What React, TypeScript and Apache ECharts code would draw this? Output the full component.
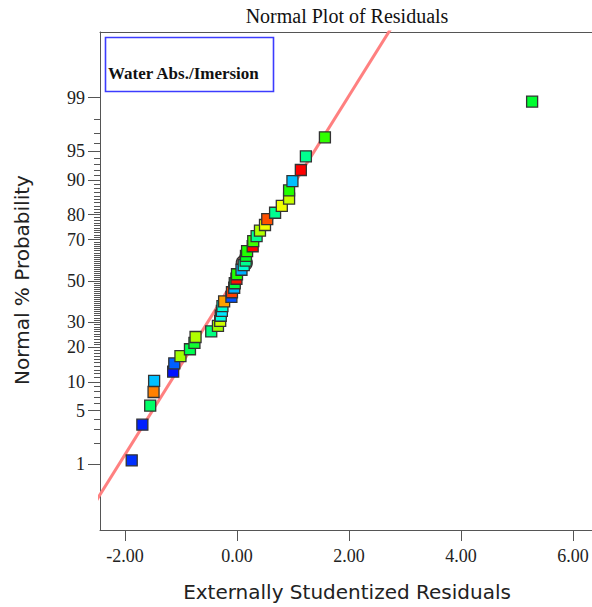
import React, { useEffect, useRef } from "react";
import * as echarts from "echarts";

// ---- data ----
const residuals = [
  -1.88, -1.69, -1.55, -1.49, -1.48, -1.14, -1.12, -1.01, -0.84, -0.76, -0.74,
  -0.46, -0.34, -0.3, -0.29, -0.27, -0.26, -0.23, -0.1, -0.09, -0.05, -0.04,
  -0.01, 0.0, 0.08, 0.12, 0.155, 0.16, 0.18, 0.28, 0.29, 0.35, 0.41, 0.5, 0.54,
  0.68, 0.8, 0.93, 0.93, 0.99, 1.14, 1.23, 1.57, 5.27,
];
const probabilities = [
  1.14, 3.41, 5.68, 7.95, 10.23, 12.5, 14.77, 17.05, 19.32, 21.59, 23.86,
  26.14, 28.41, 30.68, 32.95, 35.23, 37.5, 39.77, 42.05, 44.32, 46.59, 48.86,
  51.14, 53.41, 55.68, 57.95, 60.23, 62.5, 64.77, 67.05, 69.32, 71.59, 73.86,
  76.14, 78.41, 80.68, 82.95, 85.23, 87.5, 89.77, 92.05, 94.32, 96.59, 98.86,
];
const pointColors = [
  "#0030ff", "#0020ff", "#00ff66", "#ff8000", "#00c0ff", "#0010ff", "#0060ff",
  "#a0ff00", "#00ff50", "#10ff30", "#b0ff00", "#00ff80", "#a0ff00", "#d0ff00",
  "#00ffe0", "#00e8ff", "#00ffd0", "#ffa000", "#0050ff", "#ff4000", "#00b0ff",
  "#00ff40", "#ff1000", "#20ff00", "#00b0ff", "#00ffd0", "#00ff90", "#00ff20",
  "#20ff00", "#ff0000", "#40ff00", "#00ff90", "#b0ff00", "#f0ff00", "#ff5000",
  "#00ff90", "#f0ff00", "#c8ff00", "#20ff00", "#00c0ff", "#ff0000", "#00ff90",
  "#30ff00", "#00ff30",
];
const markedResidual = [0.13];
const markedProbability = [59.0];

const fitLineX = [-2.6, 2.9];
const fitLineZ = [-2.886, 3.376];

const xTicks = [-2, 0, 2, 4, 6];
const yMajorTicks = [1, 5, 10, 20, 30, 50, 70, 80, 90, 95, 99];

const TITLE = "Normal Plot of Residuals";
const LEGEND_TEXT = "Water Abs./Imersion";
const X_NAME = "Externally Studentized Residuals";
const Y_NAME = "Normal % Probability";

// inverse normal CDF (probability scale transform)
function probit(p: number): number {
  const a = [-3.969683028665376e1, 2.209460984245205e2, -2.759285104469687e2, 1.38357751867269e2, -3.066479806614716e1, 2.506628277459239];
  const b = [-5.447609879822406e1, 1.615858368580409e2, -1.556989798598866e2, 6.680131188771972e1, -1.328068155288572e1];
  const c = [-7.784894002430293e-3, -3.223964580411365e-1, -2.400758277161838, -2.549732539343734, 4.374664141464968, 2.938163982698783];
  const d = [7.784695709041462e-3, 3.224671290700398e-1, 2.445134137142996, 3.754408661907416];
  const plow = 0.02425;
  const phigh = 1 - plow;
  if (p < plow) {
    const q = Math.sqrt(-2 * Math.log(p));
    return (((((c[0] * q + c[1]) * q + c[2]) * q + c[3]) * q + c[4]) * q + c[5]) / ((((d[0] * q + d[1]) * q + d[2]) * q + d[3]) * q + 1);
  }
  if (p <= phigh) {
    const q = p - 0.5;
    const r = q * q;
    return ((((((a[0] * r + a[1]) * r + a[2]) * r + a[3]) * r + a[4]) * r + a[5]) * q) / (((((b[0] * r + b[1]) * r + b[2]) * r + b[3]) * r + b[4]) * r + 1);
  }
  const q = Math.sqrt(-2 * Math.log(1 - p));
  return -(((((c[0] * q + c[1]) * q + c[2]) * q + c[3]) * q + c[4]) * q + c[5]) / ((((d[0] * q + d[1]) * q + d[2]) * q + d[3]) * q + 1);
}

export default function App() {
  const ref = useRef<HTMLDivElement>(null);

  useEffect(() => {
    if (!ref.current) return;
    const chart = echarts.init(ref.current, undefined, { renderer: "svg" });

    const gridLeft = 100;
    const gridTop = 32;
    const gridBottom = 77;
    const pxPerUnit = 56;
    const zeroPx = 237;
    const xMin = (gridLeft - zeroPx) / pxPerUnit;
    const xMax = (592 - zeroPx) / pxPerUnit;
    const zLim = 3.16;

    const majorZ = yMajorTicks.map((m) => probit(m / 100));
    const minorPercents: number[] = [];
    for (let i = 1; i <= 99; i++) if (!yMajorTicks.includes(i)) minorPercents.push(i);
    const minorZ = minorPercents.map((m) => probit(m / 100));

    const serif = "'Liberation Serif', 'Times New Roman', serif";
    const sans = "'DejaVu Sans', Verdana, sans-serif";
    const axisColor = "#555";

    const pts = residuals.map((x, i) => ({
      value: [x, probit(probabilities[i] / 100)],
      itemStyle: { color: pointColors[i] },
    }));

    chart.setOption({
      animation: false,
      backgroundColor: "#fff",
      grid: {
        left: gridLeft,
        top: gridTop,
        right: 0,
        bottom: gridBottom,
        show: false,
      },
      xAxis: [
        {
          type: "value",
          min: xMin,
          max: xMax,
          position: "bottom",
          splitLine: { show: false },
          axisLine: { show: true, onZero: false, lineStyle: { color: axisColor } },
          axisTick: { show: true, customValues: xTicks, length: 11, lineStyle: { color: axisColor } },
          axisLabel: {
            customValues: xTicks,
            formatter: (v: number) => v.toFixed(2),
            fontFamily: serif,
            fontSize: 18,
            color: "#222",
            margin: 17,
          },
        },
        {
          type: "value",
          min: xMin,
          max: xMax,
          position: "top",
          splitLine: { show: false },
          axisLine: { show: true, onZero: false, lineStyle: { color: axisColor } },
          axisTick: { show: false },
          axisLabel: { show: false },
        },
      ],
      yAxis: [
        {
          type: "value",
          min: -zLim,
          max: zLim,
          position: "left",
          splitLine: { show: false },
          axisLine: { show: true, onZero: false, lineStyle: { color: axisColor } },
          axisTick: { show: true, customValues: majorZ, length: 12, lineStyle: { color: axisColor } },
          axisLabel: {
            customValues: majorZ,
            formatter: (v: number) => {
              const idx = majorZ.findIndex((z) => Math.abs(z - v) < 1e-6);
              return idx >= 0 ? String(yMajorTicks[idx]) : "";
            },
            fontFamily: serif,
            fontSize: 18,
            color: "#222",
            margin: 15,
          },
        },
        {
          type: "value",
          min: -zLim,
          max: zLim,
          position: "left",
          splitLine: { show: false },
          axisLine: { show: false, onZero: false },
          axisTick: { show: true, customValues: minorZ, length: 6, lineStyle: { color: axisColor } },
          axisLabel: { show: false },
        },
      ],
      series: [
        {
          type: "line",
          data: fitLineX.map((x, i) => [x, fitLineZ[i]]),
          showSymbol: false,
          symbol: "none",
          clip: true,
          lineStyle: { color: "#ff8080", width: 3 },
          z: 1,
          silent: true,
        },
        {
          type: "scatter",
          data: markedResidual.map((x, i) => [x, probit(markedProbability[i] / 100)]),
          symbol: "circle",
          symbolSize: 16,
          itemStyle: { color: "#b06868", borderColor: "#333", borderWidth: 1.2, opacity: 1 },
          z: 2,
        },
        {
          type: "scatter",
          data: pts,
          symbol: "rect",
          symbolSize: 11,
          itemStyle: { borderColor: "#333", borderWidth: 1.3, opacity: 1 },
          z: 3,
        },
      ],
      graphic: [
        {
          type: "text",
          x: 347,
          y: 16,
          style: { text: TITLE, font: `20px ${serif}`, fill: "#111", align: "center", verticalAlign: "middle" },
        },
        {
          type: "rect",
          z: 10,
          shape: { x: 105.5, y: 37.5, width: 168, height: 54 },
          style: { fill: "#ffffff", stroke: "#3c3cff", lineWidth: 1.6 },
        },
        {
          type: "text",
          x: 108,
          y: 73,
          z: 11,
          style: { text: LEGEND_TEXT, font: `bold 17px ${serif}`, fill: "#111", align: "left", verticalAlign: "middle" },
        },
        {
          type: "text",
          x: 347,
          y: 592,
          style: { text: X_NAME, font: `20px ${sans}`, fill: "#222", align: "center", verticalAlign: "middle" },
        },
        {
          type: "text",
          x: 22,
          y: 280,
          rotation: Math.PI / 2,
          style: { text: Y_NAME, font: `20px ${sans}`, fill: "#222", align: "center", verticalAlign: "middle" },
        },
      ],
    });

    return () => chart.dispose();
  }, []);

  return (
    <div
      ref={ref}
      style={{ position: "absolute", left: 0, top: 0, width: 592, height: 607, background: "#fff" }}
    />
  );
}
